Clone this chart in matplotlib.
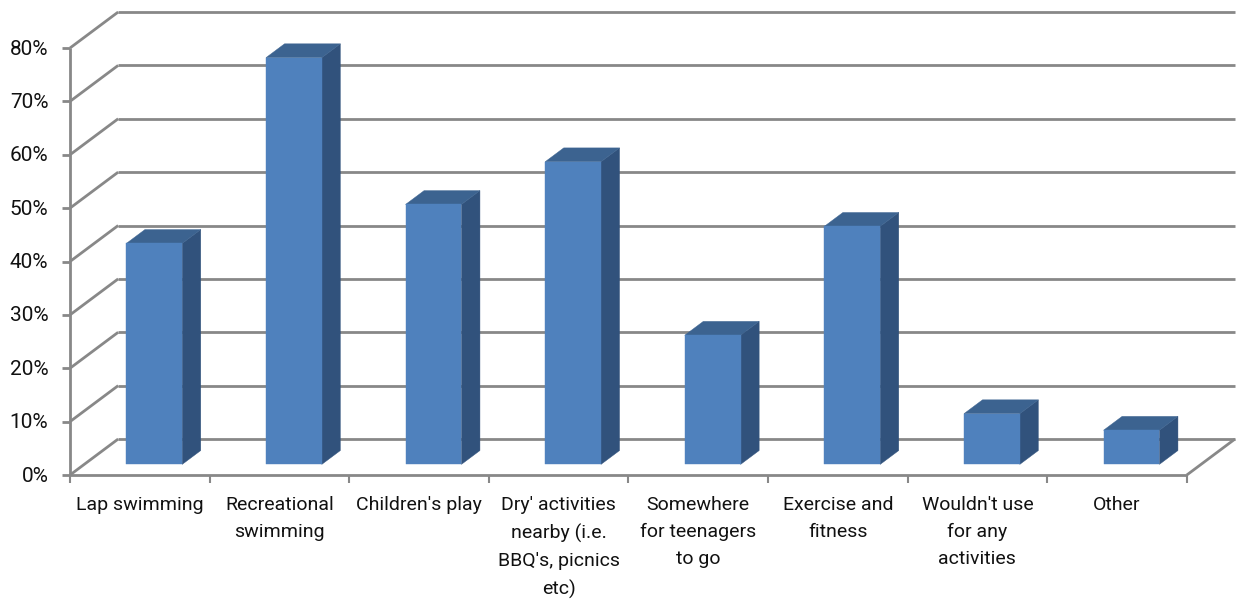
"""Share of respondents by intended activity, drawn as an oblique 3D column chart."""
import matplotlib
matplotlib.use("Agg")
import matplotlib.pyplot as plt
from matplotlib.patches import Polygon

plt.rcParams["font.family"] = ["Roboto", "Liberation Sans", "DejaVu Sans"]

categories = ["Lap swimming", "Recreational\nswimming", "Children's play",
              "Dry' activities\nnearby (i.e.\nBBQ's, picnics\netc)", "Somewhere\nfor teenagers\nto go",
              "Exercise and\nfitness", "Wouldn't use\nfor any\nactivities", "Other"]
values = [41.4, 76.2, 48.7, 56.7, 24.2, 44.6, 9.5, 6.4]
y_ticks = [0, 10, 20, 30, 40, 50, 60, 70, 80]

GRID = "#888888"
FRONT, SIDE, TOP = "#4F81BD", "#31527C", "#3C6390"
# how far one full unit of depth shifts a point, in data units
DEPTH_X, DEPTH_Y = 0.345, 6.74
BAR_W = 0.40
BAR_SHIFT = 0.002
Z0, Z1 = 0.295, 0.68


def proj(x, y, z):
    return x + DEPTH_X * z, y + DEPTH_Y * z


def face(ax, pts, color, zo):
    ax.add_patch(Polygon([proj(*p) for p in pts], closed=True, fc=color, ec=color, lw=0.3, zorder=zo))


fig = plt.figure(figsize=(12.36, 6.01), dpi=100)
ax = fig.add_axes([0, 0, 1, 1])
ax.set_xlim(-70 / 139.6, (1236 - 70) / 139.6)
ax.set_ylim(-(601 - 475) / 5.3375, 475 / 5.3375)
ax.axis("off")

n = len(categories)
line = dict(color=GRID, lw=2.0, solid_capstyle="butt", zorder=1)

# walls and floor
for v in y_ticks:
    x1, y1 = proj(0, v, 1)
    x2, _ = proj(n, v, 1)
    ax.plot([0, x1], [v, y1], **line)
    ax.plot([x1, x2], [y1, y1], **line)
    ax.plot([-0.055, 0], [v, v], **line)
    ax.text(-0.155, v - 0.2, f"{v}%", ha="right", va="center", fontsize=15, color="#111111")
ax.plot([0, 0], [0, y_ticks[-1]], **line)
ax.plot([0, n], [0, 0], **line)
ax.plot(*zip(proj(n, 0, 0), proj(n, 0, 1)), **line)
for i in range(n + 1):
    ax.plot([i, i], [0, -1.5], color=GRID, lw=1.5, solid_capstyle="butt", zorder=1)

# columns
for i, v in enumerate(values):
    x0, x1 = i + 0.5 + BAR_SHIFT - BAR_W / 2, i + 0.5 + BAR_SHIFT + BAR_W / 2
    face(ax, [(x1, 0, Z0), (x1, 0, Z1), (x1, v, Z1), (x1, v, Z0)], SIDE, 3)
    face(ax, [(x0, v, Z0), (x1, v, Z0), (x1, v, Z1), (x0, v, Z1)], TOP, 3)
    face(ax, [(x0, 0, Z0), (x1, 0, Z0), (x1, v, Z0), (x0, v, Z0)], FRONT, 4)
    ax.text(i + 0.5, -3.85, categories[i], ha="center", va="top", fontsize=14,
            color="#111111", linespacing=1.66)

fig.savefig("out.png", dpi=100)
